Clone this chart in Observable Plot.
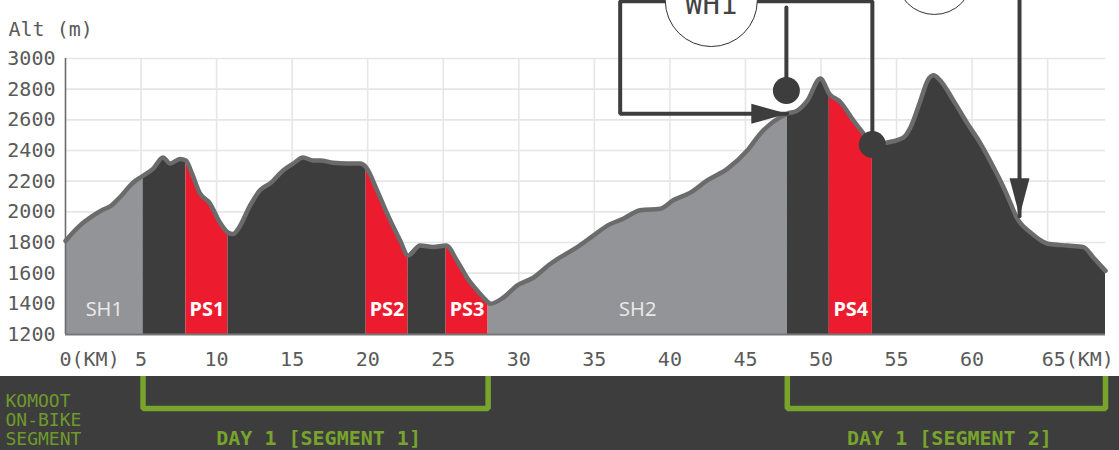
<!DOCTYPE html>
<html><head><meta charset="utf-8">
<script src="https://cdn.jsdelivr.net/npm/d3@7"></script>
<script src="https://cdn.jsdelivr.net/npm/@observablehq/plot@0.6"></script>
<style>
html,body{margin:0;padding:0;background:#fff;}
#chart{width:1119px;}
#chart svg{display:block;}
</style></head><body><div id="chart"></div>
<script>
// Elevation profile (km, metres)
const profileKm  = [0.00,0.13,0.95,1.82,2.50,2.96,3.60,4.47,5.13,5.79,6.45,6.92,7.58,7.97,8.37,8.90,9.56,10.22,10.75,11.09,11.50,12.21,12.87,13.54,14.40,15.07,15.72,16.39,16.85,17.71,18.64,19.50,19.90,20.62,21.28,22.14,22.67,23.47,24.33,25.19,25.92,26.58,27.44,27.97,28.10,28.97,29.90,30.96,32.08,32.94,33.87,34.93,35.86,36.91,38.04,39.36,40.22,41.35,42.47,43.80,45.12,45.98,47.77,48.43,49.10,49.96,50.55,51.29,52.15,52.81,53.40,54.13,55.46,55.92,56.58,57.05,57.44,57.91,58.77,59.70,60.56,61.42,62.08,62.55,62.94,63.21,63.87,64.53,65.10,66.32,67.38,68.04,68.83];
const profileAlt = [1810,1825,1910,1975,2015,2035,2095,2190,2235,2280,2355,2315,2345,2335,2250,2120,2055,1930,1865,1855,1900,2040,2140,2185,2270,2315,2355,2335,2335,2320,2315,2315,2290,2140,1990,1815,1715,1780,1770,1780,1680,1570,1465,1410,1400,1440,1520,1570,1660,1715,1770,1845,1910,1955,2010,2020,2075,2125,2205,2280,2400,2510,2640,2660,2725,2870,2770,2715,2595,2510,2420,2445,2485,2550,2725,2855,2890,2855,2725,2575,2445,2290,2160,2055,1965,1925,1865,1815,1790,1780,1770,1700,1615];

// Route segments
const segStart = [0, 5.13, 7.97, 10.75, 19.90, 22.67, 25.19, 27.97, 47.77, 50.55, 53.40];
const segEnd   = [5.13, 7.97, 10.75, 19.90, 22.67, 25.19, 27.97, 47.77, 50.55, 53.40, 68.83];
const segKind  = ["sh","ride","ps","ride","ps","ride","ps","sh","ride","ps","ride"];
const segLabel = ["SH1","","PS1","","PS2","","PS3","SH2","","PS4",""];

// Axis ticks
const yTicks = [1200,1400,1600,1800,2000,2200,2400,2600,2800,3000];
const xTicks = [0,5,10,15,20,25,30,35,40,45,50,55,60,65];
const xUnitTicks = [0,65];

// Annotations (km, metres)
const leaderKm  = [53.40, 53.40, 36.71, 36.71, 47.77];
const leaderAlt = [2439, 3374, 3374, 2640, 2640];
const pinKm  = [47.71, 47.71];
const pinAlt = [3332, 2791];
const dropKm  = [63.14, 63.14];
const dropAlt = [3420, 1972];
const dotKm  = [47.71, 53.40];
const dotAlt = [2791, 2439];
const arrowKm  = [47.77, 63.14];
const arrowAlt = [2640, 1972];
const arrowDir = ["right", "down"];
const bubbleKm  = [42.74, 57.51];
const bubbleAlt = [3378, 3535];
const bubbleR   = [46, 38];
const bubbleText = ["WH1", ""];

// Bottom band
const bracketStart = [5.13, 47.77];
const bracketEnd   = [27.97, 68.83];
const bracketLabel = ["DAY 1 [SEGMENT 1]", "DAY 1 [SEGMENT 2]"];
const bandNote = "KOMOOT\nON-BIKE\nSEGMENT";

const colors = {sh: "#939497", ride: "#3d3d3d", ps: "#ec1c2e"};
const mono = "DejaVu Sans Mono";

const profile = profileKm.map((km, i) => ({km, alt: profileAlt[i]}));
const segments = segStart.map((s, i) => ({s, e: segEnd[i], kind: segKind[i], label: segLabel[i], mid: (s + segEnd[i]) / 2}));
const eps = 1e-6;

const arrowRight = {draw(ctx) { ctx.moveTo(0, 0); ctx.lineTo(-36, -10); ctx.lineTo(-36, 10); ctx.closePath(); }};
const arrowDown  = {draw(ctx) { ctx.moveTo(0, 0); ctx.lineTo(-10, -38); ctx.lineTo(10, -38); ctx.closePath(); }};

const toPts = (ks, as) => ks.map((km, i) => ({km, alt: as[i]}));
const arrows = arrowKm.map((km, i) => ({km, alt: arrowAlt[i], dir: arrowDir[i]}));
const bubbles = bubbleKm.map((km, i) => ({km, alt: bubbleAlt[i], r: bubbleR[i], t: bubbleText[i]}));

const xDomain = [0, 68.83];
const W = 1119, ML = 65, MR = 14;

const main = Plot.plot({
  width: W, height: 376,
  marginLeft: ML, marginRight: MR, marginTop: 58, marginBottom: 42,
  x: {domain: xDomain, axis: null},
  y: {domain: [1200, 3000], axis: null},
  style: {fontFamily: mono, fontSize: "20px", color: "#555", background: "transparent", overflow: "hidden"},
  marks: [
    Plot.gridY({ticks: yTicks.slice(1), stroke: "#e6e6e6", strokeOpacity: 1, strokeWidth: 1.6}),
    Plot.gridX({ticks: xTicks.slice(1), stroke: "#e6e6e6", strokeOpacity: 1, strokeWidth: 1.6}),
    ...segments.map(seg => Plot.areaY(profile.filter(d => d.km >= seg.s - eps && d.km <= seg.e + eps),
      {x: "km", y1: 1200, y2: "alt", fill: colors[seg.kind], curve: "monotone-x"})),
    Plot.line(profile, {x: "km", y: "alt", stroke: "#6b6b6b", strokeWidth: 4.5, strokeLinejoin: "round", strokeLinecap: "round", curve: "monotone-x"}),
    Plot.ruleX([0], {stroke: "#6b6b6b", strokeWidth: 1.6}),
    Plot.ruleY([1200], {stroke: "#777", strokeWidth: 2}),
    Plot.text(segments.filter(d => d.kind === "sh"), {x: "mid", text: "label", frameAnchor: "bottom", dy: -19,
      fill: "#e8e8e8", fontFamily: "Noto Sans", fontSize: 20}),
    Plot.text(segments.filter(d => d.kind === "ps"), {x: "mid", text: "label", frameAnchor: "bottom", dy: -19,
      fill: "#ffffff", fontFamily: "Noto Sans", fontWeight: "bold", fontSize: 20}),
    Plot.axisY({ticks: yTicks, tickFormat: d => String(d), tickSize: 0, tickPadding: 10, label: null, fill: "#5a5a5a", fontSize: 20}),
    Plot.axisX({ticks: xTicks.filter(t => !xUnitTicks.includes(t)), tickFormat: d => String(d), tickSize: 0, tickPadding: 17, label: null, fill: "#5a5a5a", fontSize: 20}),
    Plot.axisX({ticks: xUnitTicks, tickFormat: d => d + "(KM)", tickSize: 0, tickPadding: 17, label: null, fill: "#5a5a5a", fontSize: 20, textAnchor: "start", dx: -6}),
    Plot.text(["Alt (m)"], {frameAnchor: "top-left", dx: -57, dy: -37, textAnchor: "start", fill: "#5a5a5a", fontSize: 20}),
    // annotations
    Plot.line(toPts(leaderKm, leaderAlt), {x: "km", y: "alt", stroke: "#3d3d3d", strokeWidth: 4, strokeLinejoin: "miter"}),
    Plot.line(toPts(pinKm, pinAlt), {x: "km", y: "alt", stroke: "#3d3d3d", strokeWidth: 4}),
    Plot.line(toPts(dropKm, dropAlt), {x: "km", y: "alt", stroke: "#3d3d3d", strokeWidth: 4}),
    ...bubbles.map(b => Plot.dot([b], {x: "km", y: "alt", r: b.r, fill: "white", stroke: "#333", strokeWidth: 1})),
    Plot.text(bubbles, {x: "km", y: "alt", text: "t", fill: "#444", fontSize: 29, dy: 4}),
    Plot.dot(toPts(dotKm, dotAlt), {x: "km", y: "alt", r: 13.5, fill: "#3d3d3d", stroke: "none"}),
    Plot.dot(arrows.filter(d => d.dir === "right"), {x: "km", y: "alt", r: 10, symbol: arrowRight, fill: "#3d3d3d", stroke: "none"}),
    Plot.dot(arrows.filter(d => d.dir === "down"), {x: "km", y: "alt", r: 10, symbol: arrowDown, fill: "#3d3d3d", stroke: "none"})
  ]
});

// Band (pixel-depth scale from top of band)
const brackets = [];
bracketStart.forEach((s, i) => {
  const e = bracketEnd[i];
  [[s, -3], [s, 32], [e, 32], [e, -3]].forEach(([km, v]) => brackets.push({km, v, i}));
});
const bracketTexts = bracketStart.map((s, i) => ({mid: (s + bracketEnd[i]) / 2, label: bracketLabel[i]}));

const band = Plot.plot({
  width: W, height: 74,
  marginLeft: ML, marginRight: MR, marginTop: 0, marginBottom: 0,
  x: {domain: xDomain, axis: null},
  y: {domain: [74, 0], range: [74, 0], axis: null},
  style: {fontFamily: mono, background: "#3d3d3d", overflow: "hidden"},
  marks: [
    Plot.line(brackets, {x: "km", y: "v", z: "i", stroke: "#78a42d", strokeWidth: 5.5, strokeLinejoin: "miter"}),
    Plot.text(bracketTexts, {x: "mid", y: 62, dx: 3, text: "label", fill: "#78a42d", fontWeight: "bold", fontSize: 20}),
    Plot.text([bandNote], {frameAnchor: "top-left", dx: -60, dy: 17, textAnchor: "start", lineAnchor: "top",
      lineHeight: 1.06, fill: "#6f9a2b", fontSize: 18})
  ]
});

const root = document.getElementById("chart");
root.appendChild(main);
root.appendChild(band);
</script>
</body></html>
